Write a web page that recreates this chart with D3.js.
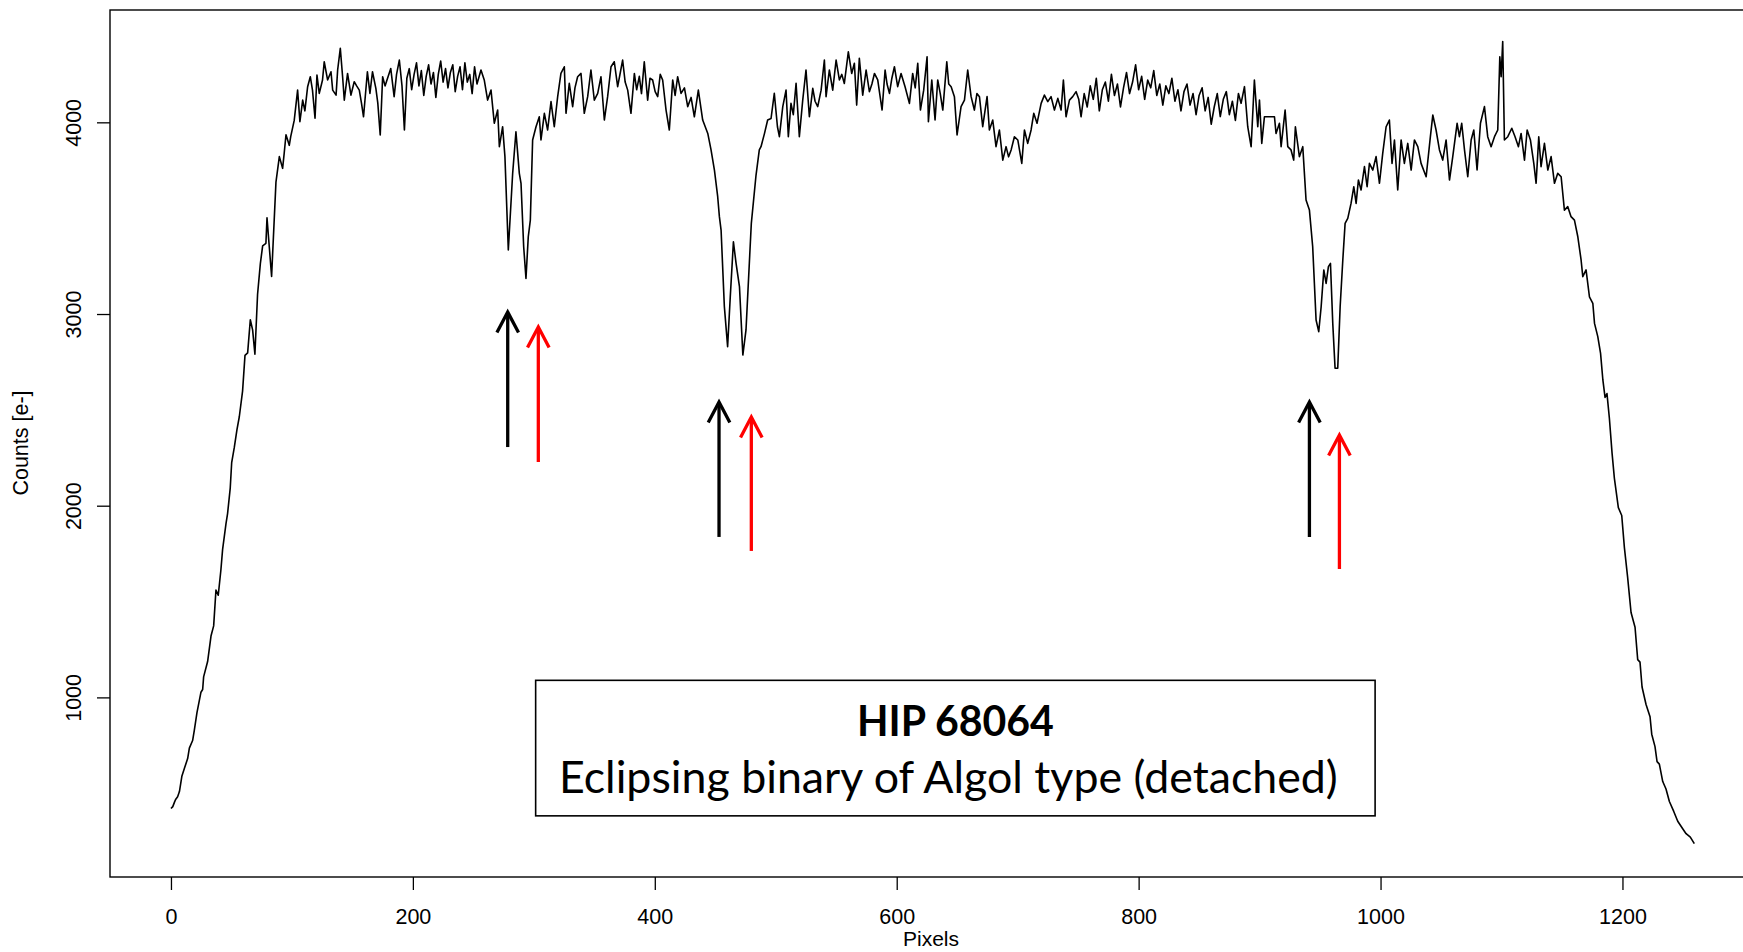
<!DOCTYPE html>
<html><head><meta charset="utf-8">
<script src="https://cdn.jsdelivr.net/npm/d3@7"></script>
<style>html,body{margin:0;padding:0;background:#fff;overflow:hidden}svg{display:block}</style>
</head><body>
<svg id="chart" width="1743" height="952"></svg>
<script>
// ---------------- data ----------------
const pixels = [0,1.5,3,4,5.5,7,9,11,13.8,15.2,17.9,19.3,21.5,24.8,26.2,27,30.3,33.1,35.3,37.2,39.1,41.3,42.7,45.5,46.8,49,50.2,52.4,54.6,56.5,59.2,61.2,63.4,65.6,67.5,69.4,71.6,73.9,75.8,78.5,79.4,83.2,86.8,89.6,92.3,93.6,95.1,97.8,99,101.9,104.7,106.6,108.9,110.7,113,115.2,117,119.1,120.7,122.6,125.3,126.7,129.5,132.3,133.7,136.5,137.8,140,141.9,143.3,146,148.8,151.5,153.5,155.7,157.5,159.2,162.4,164.5,166.6,169.4,171,173,175,177,179,181.7,184.5,186.5,188.8,
191,193,195,197,199,201,203,205,207,209,211,213,215,217,219,221,223,225,227,229,231,233,235,237,239,241,243,245,247,249,251,253,
256.3,259,261.8,264.6,267.3,270.1,271.5,274.2,276.1,278.9,282.5,285.2,288,289.4,291.6,293.5,295.4,297.1,299,301.8,304.5,305.9,308.7,311.4,314.2,316.9,319.7,322.4,325.2,326.6,329.3,332.1,334,336.2,339,341.7,344.5,347.2,350,352.8,355.5,358.3,361,363.8,366.5,369.3,371.5,373.4,375.5,377.6,380.3,383.1,385,387.2,389,391.3,394.1,396,398.2,400.3,402.4,404.5,406.5,409.3,412,414.8,416.8,418.9,421.7,424.5,427.2,430,432.7,436,439.6,443.8,446.5,449.3,452,453.4,454.8,457.5,460.2,462.4,465,467.2,470,472.8,475.4,479.8,483.7,486.4,487.8,490.6,493.3,496.1,498.8,501.4,503,
505.8,508.5,510.4,512.6,514.5,516.8,519.5,522.3,525,527.8,530.6,532.5,534.7,537.5,540.2,541.6,544.3,547.1,549.9,552.6,554.6,556.7,560,562.8,565,566.9,569.1,571.9,574.7,577.4,579.5,581.6,584.3,587.9,590.4,592,594,596,598.1,600.8,603.6,606.9,610.5,613.2,615.3,617.4,619.6,622.3,625.1,626.2,629,631.7,633.9,636,638.1,641.4,643,645,647.7,649.9,653.2,656,658.7,661.5,664.2,666.3,668.4,671.1,674.7,676.6,679.4,682.1,684.9,687.7,690.4,692.5,694.6,697.3,700.1,703.4,705.6,708.3,711.1,713.3,716,719.4,722.1,724.9,727.6,730.4,733.2,735.9,737.8,740,742.8,745.5,748.3,750.5,752.4,
755,757.5,760,762.5,765,767.5,770,772.5,775,777.5,780,782.5,785,787.5,790,792.5,795,797.5,800,802.5,805,807.5,810,812.5,815,817.5,820,822.5,825,827.5,830,832.5,835,837.5,840,842.5,845,847.5,850,852.5,855,857.5,860,862.5,865,867.5,870,872.5,875,877.5,880,882.5,
884.7,887.5,890.2,893,895.7,898.5,899.9,901.8,904,912.3,913.6,916.4,917.8,921.1,923.3,926,928.2,929.6,932.9,935.7,938.4,941.2,943.9,946.7,948.9,950.9,953.1,955,956.9,958.6,960.5,962.4,964.6,966.6,968.8,970.7,972.9,975.6,977.9,979.8,981.7,983.9,986.7,988.9,990.8,993.6,996.3,999.1,1001.8,1004.6,1007.3,1009.5,1011.5,1014.2,1017,1019.7,1022.5,1025.3,1028,1030.8,1033.5,1037.7,1041.2,1043.2,1045.9,1048.7,1051.4,1054.2,1057,1059.7,1063.3,1065.2,1067.1,1069.4,1072.1,1074.9,1077.1,1079.8,1082.6,1085.9,1088.6,1091.4,1094.2,1096.9,1098.6,1099.7,1101,1102.4,1105.2,1108.5,1111.2,1114,1116.2,1119,1121.2,1123.9,
1126.7,1128.6,1130.8,1132.7,1135.5,1138.3,1141,1143.8,1146.5,1149.3,1152,1154.8,1157.5,1160.3,1163.1,1165.8,1167.2,1169.9,1172.7,1175.5,1176.9,1179.6,1181.9,1183.8,1185.6,1187.2,1189.2,1191.4,1193.3,1196.6,1199.4,1201.6,1204.3,1207.1,1210.4,1212.6,1214.5,1216.2,1219.5,1222.8,1224.2,1226.9,1228.6,1230.5,1233.3,1236,1238.8,1242.4,1245.7,1249.8,1252.6,1256.1,1259.4];

const counts = [420,430,455,469,482,509,588,628,681,735,775,828,921,1027,1041,1107,1187,1320,1373,1560,1533,1666,1772,1906,1959,2092,2225,2305,2398,2464,2598,2784,2797,2970,2917,2790,3103,3263,3356,3369,3502,3196,3688,3821,3760,3838,3935,3880,3925,4010,4168,4003,4116,4060,4186,4238,4168,4021,4247,4151,4221,4316,4221,4264,4168,4142,4273,4386,4238,4116,4255,4142,4212,4190,4168,4100,4029,4264,4151,4264,4177,4100,3934,4238,4190,4229,4281,4134,4250,4325,
4190,3960,4230,4280,4170,4250,4310,4190,4270,4140,4240,4300,4200,4260,4130,4250,4320,4210,4280,4180,4260,4300,4160,4240,4290,4170,4310,4210,4250,4150,4290,4200,
4273,4221,4116,4168,3995,4064,3873,3977,3821,3334,3734,3951,3734,3682,3351,3186,3403,3490,3908,3977,4029,3908,4047,3960,4108,3977,4134,4255,4290,4047,4203,4082,4180,4238,4255,4047,4134,4273,4116,4151,4238,4012,4134,4290,4316,4186,4260,4325,4210,4168,4047,4255,4170,4240,4150,4316,4116,4230,4221,4160,4134,4250,4221,4064,3960,4221,4140,4238,4151,4180,4082,4130,4029,4168,4012,3942,3856,3751,3612,3508,3438,3040,2830,3090,3377,3264,3143,2786,2917,3473,3725,3856,3873,3940,4012,4020,4151,3977,3925,
4082,4168,3925,4099,4040,4203,3925,4116,4273,4029,4177,4110,4082,4168,4325,4134,4273,4168,4325,4221,4250,4203,4368,4255,4308,4090,4334,4142,4273,4160,4200,4255,4221,4064,4273,4200,4151,4230,4290,4186,4255,4186,4099,4255,4180,4308,4064,4168,4342,4003,4221,4012,4221,4150,4064,4316,4200,4186,4134,3934,4082,4116,4273,4134,4064,4150,4134,3977,4134,3960,4012,3873,3960,3803,3873,3820,3856,3925,3908,3786,3960,3890,3960,4047,3995,4099,4142,4108,4134,4064,4125,4064,4221,4029,4116,4134,4160,4120,4029,
4150,4080,4190,4120,4230,4060,4170,4210,4110,4250,4140,4200,4080,4180,4260,4150,4210,4300,4170,4240,4120,4220,4180,4270,4140,4200,4090,4190,4150,4230,4110,4170,4060,4160,4200,4090,4150,4040,4140,4180,4060,4130,3990,4080,4150,4030,4120,4160,4040,4110,4010,4150,
4099,4186,3977,3873,4221,3977,4116,3890,4029,4029,3942,3995,3873,4064,3873,3856,3803,3977,3821,3873,3595,3542,3351,2969,2908,3038,3230,3160,3247,3264,2951,2717,2717,3038,3282,3473,3499,3577,3664,3577,3699,3647,3769,3664,3786,3751,3821,3682,3838,3977,4012,3786,3908,3647,3908,3786,3890,3751,3908,3873,3786,3716,3925,4038,3960,3856,3803,3908,3699,3821,3995,3925,3995,3856,3716,3908,3960,3751,3995,4082,3925,3873,3925,3960,4342,4238,4421,3908,3925,3969,3925,3873,3942,3803,3960,3908,
3786,3682,3925,3769,3890,3751,3821,3682,3734,3716,3542,3560,3508,3490,3403,3282,3195,3230,3090,3056,2951,2882,2795,2656,2565,2585,2455,2274,2144,1990,1949,1781,1625,1443,1366,1197,1184,1054,963,899,808,743,665,652,561,522,457,405,354,315,289,271,237];

const xTicks = [0, 200, 400, 600, 800, 1000, 1200];
const yTicks = [1000, 2000, 3000, 4000];
const xDomain = [-50.4, 1310.4];
const yDomain = [63, 4586];
const xTitle = "Pixels";
const yTitle = "Counts [e-]";

// annotation arrows (pixel position, counts of tip and tail); first of each pair = primary eclipse, second = secondary
const arrowPixel = [278.4, 303.7, 453.1, 479.8, 941.2, 966.0];
const arrowTip   = [3010, 2932, 2541, 2463, 2541, 2369];
const arrowTail  = [2306, 2228, 1837, 1764, 1837, 1670];
const arrowKind  = ["primary", "secondary", "primary", "secondary", "primary", "secondary"];

// label box (in data units)
const boxPixels = [301.5, 995.5];
const boxCounts = [382, 1089];
const boxLines = ["HIP 68064", "Eclipsing binary of Algol type (detached)"];

// ---------------- drawing ----------------
const plot = {left: 110, right: 1756, top: 10, bottom: 877};
const svg = d3.select("#chart");
const x = d3.scaleLinear().domain(xDomain).range([plot.left, plot.right]);
const y = d3.scaleLinear().domain(yDomain).range([plot.bottom, plot.top]);
const axisFont = "'Liberation Sans', Arial, Helvetica, sans-serif";
const axisSize = 21.5;

// frame
svg.append("rect")
  .attr("x", plot.left).attr("y", plot.top)
  .attr("width", plot.right - plot.left).attr("height", plot.bottom - plot.top)
  .attr("fill", "none").attr("stroke", "#000").attr("stroke-width", 1.4);

// x axis
const gx = svg.append("g").attr("transform", `translate(0,${plot.bottom})`)
  .call(d3.axisBottom(x).tickValues(xTicks).tickSize(13).tickFormat(d3.format("d")));
gx.select(".domain").remove();
gx.selectAll(".tick line").attr("stroke", "#000").attr("stroke-width", 1.3);
gx.selectAll(".tick text").attr("y", 47).attr("dy", null)
  .attr("font-family", axisFont).attr("font-size", axisSize).attr("fill", "#000");

// y axis
const gy = svg.append("g").attr("transform", `translate(${plot.left},0)`)
  .call(d3.axisLeft(y).tickValues(yTicks).tickSize(13).tickFormat(d3.format("d")));
gy.select(".domain").remove();
gy.selectAll(".tick line").attr("stroke", "#000").attr("stroke-width", 1.3);
gy.selectAll(".tick text").attr("x", null).attr("dy", null)
  .attr("transform", "translate(-29.5,0) rotate(-90)")
  .attr("text-anchor", "middle")
  .attr("font-family", axisFont).attr("font-size", axisSize).attr("fill", "#000");

// axis titles
svg.append("text").attr("x", 931).attr("y", 946).attr("text-anchor", "middle")
  .attr("font-family", axisFont).attr("font-size", 21).text(xTitle);
svg.append("text").attr("transform", "translate(28,443) rotate(-90)").attr("text-anchor", "middle")
  .attr("font-family", axisFont).attr("font-size", axisSize).text(yTitle);

// spectrum line
const line = d3.line().x((d, i) => x(pixels[i])).y((d, i) => y(counts[i]));
svg.append("path").datum(counts)
  .attr("d", line).attr("fill", "none").attr("stroke", "#000")
  .attr("stroke-width", 1.6).attr("stroke-linejoin", "round");

// arrows
const arrowColor = {primary: "#000", secondary: "#ff0000"};
const ag = svg.append("g");
arrowPixel.forEach((p, i) => {
  const ax = x(p), ty = y(arrowTip[i]), by = y(arrowTail[i]);
  const c = arrowColor[arrowKind[i]];
  ag.append("line").attr("x1", ax).attr("x2", ax).attr("y1", ty + 1).attr("y2", by)
    .attr("stroke", c).attr("stroke-width", 3.3);
  ag.append("path").attr("d", `M${ax - 10.8},${ty + 20.5}L${ax},${ty}L${ax + 10.8},${ty + 20.5}`)
    .attr("fill", "none").attr("stroke", c).attr("stroke-width", 3.3)
    .attr("stroke-linejoin", "miter");
});

// label box
const bx0 = x(boxPixels[0]), bx1 = x(boxPixels[1]);
const by0 = y(boxCounts[1]), by1 = y(boxCounts[0]);
svg.append("rect").attr("x", bx0).attr("y", by0).attr("width", bx1 - bx0).attr("height", by1 - by0)
  .attr("fill", "#fff").attr("stroke", "#000").attr("stroke-width", 1.6);
const boxFont = "Lato, 'Open Sans', sans-serif";
const cx = (bx0 + bx1) / 2;
const t1 = svg.append("text").attr("x", cx).attr("y", by0 + 56).attr("text-anchor", "middle")
  .attr("font-family", boxFont).attr("font-weight", "bold").attr("font-size", 46).attr("fill", "#000")
  .text(boxLines[0]);
const t2 = svg.append("text").attr("x", cx - 7).attr("y", by0 + 113).attr("text-anchor", "middle")
  .attr("font-family", boxFont).attr("font-size", 46).attr("fill", "#000")
  .text(boxLines[1]);
// fit widths to the reference label widths
[[t1, 197], [t2, 779]].forEach(([t, w]) => {
  const m = t.node().getComputedTextLength();
  if (m > 0) t.attr("font-size", 46 * w / m);
});
</script>
</body></html>
